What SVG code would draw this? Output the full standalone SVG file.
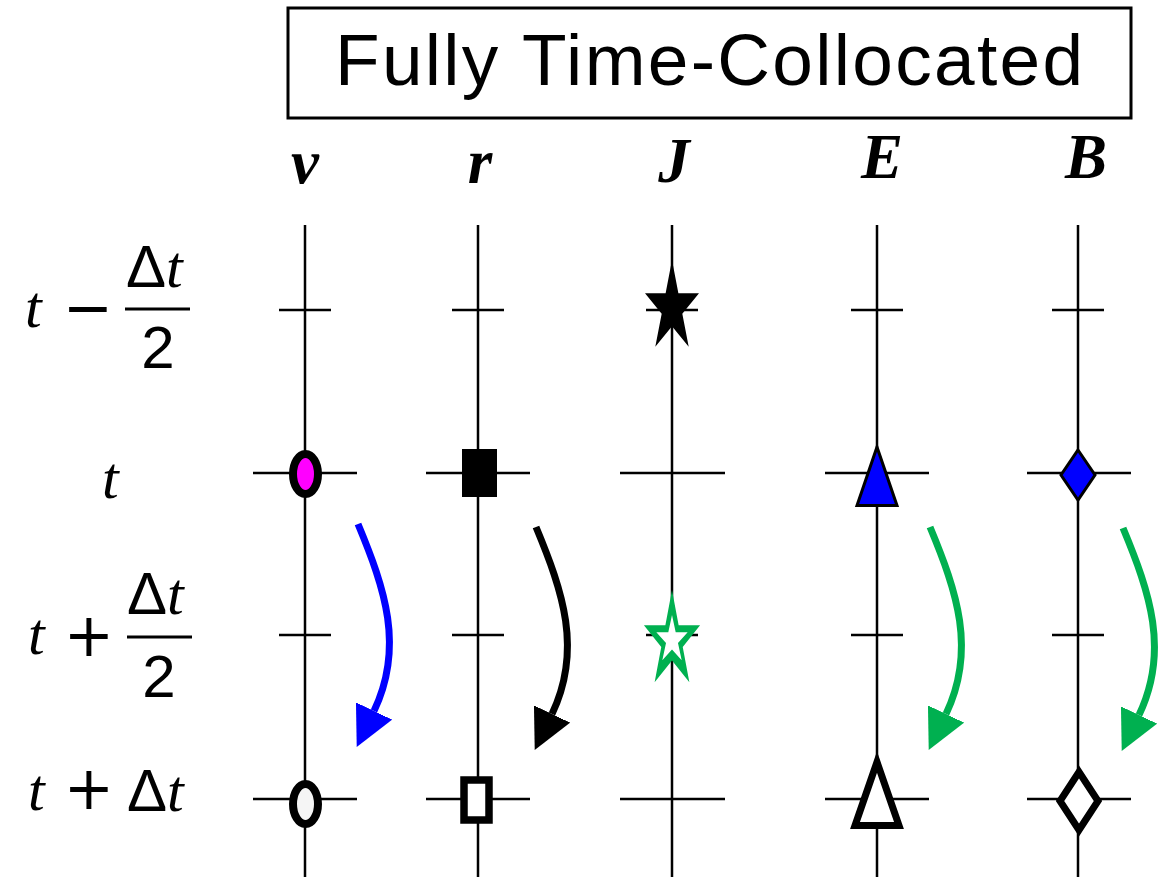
<svg xmlns="http://www.w3.org/2000/svg" width="1158" height="877" viewBox="0 0 1158 877">
<style>
.ax{stroke:#000;stroke-width:2.5;fill:none}
.title{font-family:"Liberation Sans",Arial,sans-serif;font-size:73px;fill:#000}
.col{font-family:"Liberation Serif","Times New Roman",serif;font-size:63px;font-weight:bold;font-style:italic;fill:#000;text-anchor:middle}
.it{font-family:"Liberation Serif","Times New Roman",serif;font-style:italic;font-size:60px;fill:#000}
.sn{font-family:"Liberation Sans",Arial,sans-serif;font-size:60px;fill:#000}
.op{font-family:"DejaVu Sans",sans-serif;font-size:60px;fill:#000;text-anchor:middle}
.bar{stroke:#000;stroke-width:3}
.arr{fill:none;stroke-width:7}
</style>
<defs>
<polygon id="star" points="0,-48 6.38,-14.84 27,-14.84 10.32,5.67 16.7,38.8 0,18.34 -16.7,38.8 -10.32,5.67 -27,-14.84 -6.38,-14.84"/>
<marker id="ah-blue" markerUnits="userSpaceOnUse" viewBox="0 0 40 40" markerWidth="40" markerHeight="40" refX="0" refY="20" orient="auto"><path d="M0,0 L40,20 L0,40 z" fill="#0000ff"/></marker>
<marker id="ah-black" markerUnits="userSpaceOnUse" viewBox="0 0 40 40" markerWidth="40" markerHeight="40" refX="0" refY="20" orient="auto"><path d="M0,0 L40,20 L0,40 z" fill="#000"/></marker>
<marker id="ah-green" markerUnits="userSpaceOnUse" viewBox="0 0 40 40" markerWidth="40" markerHeight="40" refX="0" refY="20" orient="auto"><path d="M0,0 L40,20 L0,40 z" fill="#00b050"/></marker>
</defs>
<rect width="1158" height="877" fill="#fff"/>

<g id="title">
<rect x="288" y="8" width="843" height="110" fill="#fff" stroke="#000" stroke-width="3"/>
<text class="title" x="335" y="85" textLength="748" lengthAdjust="spacing">Fully Time-Collocated</text>
</g>

<g id="row-labels">
<text class="it" x="25" y="327">t</text>
<text class="op" x="88" y="328">−</text>
<line class="bar" x1="125" y1="309" x2="190" y2="309"/>
<text x="126" y="287"><tspan class="sn">Δ</tspan><tspan class="it">t</tspan></text>
<text class="sn" x="158" y="368" text-anchor="middle">2</text>

<text class="it" x="102" y="498">t</text>

<text class="it" x="28" y="654">t</text>
<text class="op" x="89" y="656">+</text>
<line class="bar" x1="127" y1="637" x2="192" y2="637"/>
<text x="127" y="614"><tspan class="sn">Δ</tspan><tspan class="it">t</tspan></text>
<text class="sn" x="159" y="697" text-anchor="middle">2</text>

<text class="it" x="28" y="810">t</text>
<text class="op" x="89" y="809">+</text>
<text x="127" y="811"><tspan class="sn">Δ</tspan><tspan class="it">t</tspan></text>
</g>

<g id="col-v">
<text class="col" x="305" y="183">v</text>
<line class="ax" x1="305" y1="225" x2="305" y2="877"/>
<line class="ax" x1="279" y1="310" x2="331" y2="310"/>
<line class="ax" x1="253" y1="473" x2="357" y2="473"/>
<line class="ax" x1="279" y1="635" x2="331" y2="635"/>
<line class="ax" x1="253" y1="799" x2="357" y2="799"/>
<ellipse cx="305.5" cy="474" rx="12.5" ry="20" fill="#ff00ff" stroke="#000" stroke-width="8"/>
<ellipse cx="305.5" cy="804" rx="12.5" ry="20" fill="#f5f5f5" stroke="#000" stroke-width="8"/>
</g>

<g id="col-r">
<text class="col" x="480" y="183">r</text>
<line class="ax" x1="478" y1="225" x2="478" y2="877"/>
<line class="ax" x1="452" y1="310" x2="504" y2="310"/>
<line class="ax" x1="426" y1="473" x2="530" y2="473"/>
<line class="ax" x1="452" y1="635" x2="504" y2="635"/>
<line class="ax" x1="426" y1="799" x2="530" y2="799"/>
<rect x="462" y="449" width="35" height="48" fill="#000"/>
<rect x="464" y="780" width="25" height="40" fill="#fff" stroke="#000" stroke-width="7.5"/>
</g>

<g id="col-J">
<text class="col" x="674" y="182">J</text>
<line class="ax" x1="672" y1="225" x2="672" y2="877"/>
<line class="ax" x1="646" y1="310" x2="698" y2="310"/>
<line class="ax" x1="620" y1="473" x2="725" y2="473"/>
<line class="ax" x1="646" y1="635" x2="698" y2="635"/>
<line class="ax" x1="620" y1="799" x2="725" y2="799"/>
<use href="#star" transform="translate(672,308)" fill="#000"/>
<use href="#star" transform="translate(672,641) scale(1.04,1.06)" fill="#00b050"/>
<use href="#star" transform="translate(672,640) scale(0.58,0.52)" fill="#fff"/>
</g>

<g id="col-E">
<text class="col" x="882" y="178">E</text>
<line class="ax" x1="877" y1="225" x2="877" y2="877"/>
<line class="ax" x1="851" y1="310" x2="903" y2="310"/>
<line class="ax" x1="825" y1="473" x2="929" y2="473"/>
<line class="ax" x1="851" y1="635" x2="903" y2="635"/>
<line class="ax" x1="825" y1="799" x2="929" y2="799"/>
<polygon points="877,447 897,505.5 857,505.5" fill="#0000ff" stroke="#000" stroke-width="3"/>
<polygon points="877,762 899,825.5 855,825.5" fill="#fff" stroke="#000" stroke-width="7"/>
</g>

<g id="col-B">
<text class="col" x="1086" y="178">B</text>
<line class="ax" x1="1078" y1="225" x2="1078" y2="877"/>
<line class="ax" x1="1052" y1="310" x2="1104" y2="310"/>
<line class="ax" x1="1027" y1="473" x2="1131" y2="473"/>
<line class="ax" x1="1052" y1="635" x2="1104" y2="635"/>
<line class="ax" x1="1027" y1="799" x2="1131" y2="799"/>
<polygon points="1078,450 1095,475 1078,500 1061,475" fill="#0000ff" stroke="#000" stroke-width="3"/>
<polygon points="1079,772 1098,801 1079,830 1060,801" fill="#fff" stroke="#000" stroke-width="7"/>
</g>

<g id="connectors">
<path class="arr" stroke="#0000ff" marker-end="url(#ah-blue)" d="M358,524 C385,588.8 404.6,647.1 374,711"/>
<path class="arr" stroke="#000" marker-end="url(#ah-black)" d="M536,527 C563,591.8 582.6,650.1 552,714"/>
<path class="arr" stroke="#00b050" marker-end="url(#ah-green)" d="M930,527 C957,591.8 976.6,650.1 946,714"/>
<path class="arr" stroke="#00b050" marker-end="url(#ah-green)" d="M1123,528 C1150,592.8 1169.6,651.1 1139,715"/>
</g>
</svg>
